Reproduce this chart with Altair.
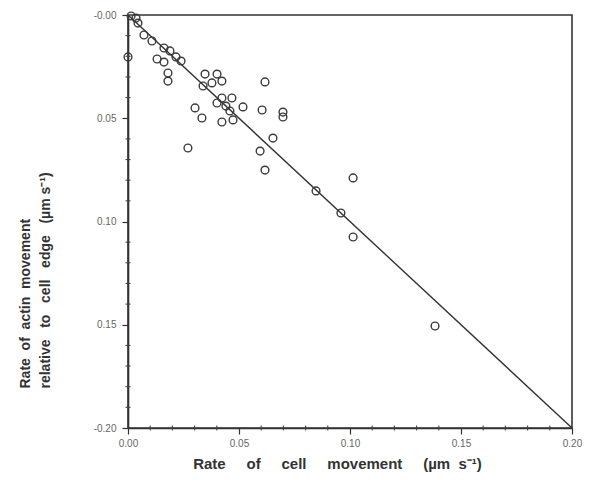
import altair as alt
import pandas as pd

# Rate of cell movement (µm/s)
cell_rate = [0.000, 0.0014, 0.0036, 0.0045, 0.0072, 0.0108, 0.0162, 0.0189, 0.0216, 0.0239,
             0.0131, 0.0162, 0.0180, 0.0180, 0.0347, 0.0401, 0.0423, 0.0338, 0.0378, 0.0617,
             0.0423, 0.0468, 0.0401, 0.0441, 0.0518, 0.0459, 0.0604, 0.0698, 0.0698, 0.0302,
             0.0333, 0.0423, 0.0473, 0.0270, 0.0653, 0.0595, 0.0617, 0.0847, 0.1014, 0.0959,
             0.1014, 0.1383]
# Rate of actin movement relative to cell edge (µm/s)
actin_rate = [-0.0203, -0.0005, -0.0015, -0.0039, -0.0097, -0.0126, -0.0160, -0.0174, -0.0203, -0.0223,
              -0.0213, -0.0228, -0.0281, -0.0320, -0.0286, -0.0286, -0.0320, -0.0344, -0.0329, -0.0324,
              -0.0402, -0.0402, -0.0426, -0.0441, -0.0445, -0.0465, -0.0460, -0.0470, -0.0494, -0.0450,
              -0.0499, -0.0518, -0.0508, -0.0644, -0.0596, -0.0659, -0.0751, -0.0852, -0.0789, -0.0959,
              -0.1075, -0.1506]
# reference line
line_x = [0.0, 0.20]
line_y = [0.0, -0.20]

x_major = [0.00, 0.05, 0.10, 0.15, 0.20]
x_minor = [0.01, 0.02, 0.03, 0.04, 0.06, 0.07, 0.08, 0.09,
           0.11, 0.12, 0.13, 0.14, 0.16, 0.17, 0.18, 0.19]
y_major = [0.00, -0.05, -0.10, -0.15, -0.20]
y_minor = [-0.01, -0.02, -0.03, -0.04, -0.06, -0.07, -0.08, -0.09,
           -0.11, -0.12, -0.13, -0.14, -0.16, -0.17, -0.18, -0.19]
x_labels = ["0.00", "0.05", "0.10", "0.15", "0.20"]
y_labels = ["-0.00", "0.05", "0.10", "0.15", "-0.20"]

pts = pd.DataFrame({"x": cell_rate, "y": actin_rate})
ln = pd.DataFrame({"x": line_x, "y": line_y})
xm = pd.DataFrame({"x": x_minor})
ym = pd.DataFrame({"y": y_minor})

NB = "\u00a0"
def spaced(words, n):
    return (NB * n).join(words)

def label_expr(values, labels):
    parts = []
    for v, l in zip(values, labels):
        parts.append(f"abs(datum.value - ({v})) < 0.001 ? '{l}'")
    return " : ".join(parts) + " : ''"

x_title = spaced(["Rate", "of", "cell", "movement", "(µm"], 5) + NB * 2 + "s⁻¹)"
y_title = [spaced(["Rate", "of", "actin", "movement"], 2),
           spaced(["relative", "to", "cell", "edge", "(µm"], 3) + NB + "s⁻¹)"]

x_axis = alt.Axis(
    values=x_major,
    labelExpr=label_expr(x_major, x_labels),
    title=x_title,
    titleFont="Liberation Sans", titleFontSize=15, titleFontWeight="bold", titleColor="#333",
    titleX=209, titleAnchor="middle", titleAlign="center", titlePadding=8,
    labelFont="Liberation Sans", labelFontSize=10, labelColor="#666", labelFlush=False,
    labelOverlap=False, labelPadding=4,
    tickSize=6, tickColor="#333", tickWidth=1.2,
    domainColor="#333", domainWidth=1.6, grid=False,
)
y_axis = alt.Axis(
    values=y_major,
    labelExpr=label_expr(y_major, y_labels),
    title=y_title,
    titleFont="Liberation Sans", titleFontSize=14, titleFontWeight="bold", titleColor="#333",
    titleAngle=270, titleAlign="left", titleX=-103, titleY=373, titleLineHeight=20,
    titleBaseline="middle",
    labelFont="Liberation Sans", labelFontSize=10, labelColor="#666", labelFlush=False,
    labelOverlap=False, labelPadding=6,
    tickSize=6, tickColor="#333", tickWidth=1.2,
    domainColor="#333", domainWidth=1.6, grid=False,
)

xs = alt.Scale(domain=[0, 0.2], nice=False, zero=False)
ys = alt.Scale(domain=[-0.2, 0], nice=False, zero=False)

X = alt.X("x:Q", scale=xs, axis=x_axis)
Y = alt.Y("y:Q", scale=ys, axis=y_axis)

points = alt.Chart(pts).mark_point(
    shape="circle", filled=False, size=60, stroke="#3a3a3a", strokeWidth=1.4, opacity=1
).encode(x=X, y=Y)

line = alt.Chart(ln).mark_line(color="#333", strokeWidth=1.4).encode(x=X, y=Y)

x_minor_ticks = alt.Chart(xm).mark_tick(
    orient="vertical", size=5, thickness=1.1, color="#444", opacity=1
).encode(x=X, y=alt.value(413))

y_minor_ticks = alt.Chart(ym).mark_tick(
    orient="horizontal", size=5, thickness=1.1, color="#444", opacity=1
).encode(y=Y, x=alt.value(0))

chart = alt.layer(line, points, x_minor_ticks, y_minor_ticks).properties(
    width=444, height=413,
    autosize=alt.AutoSizeParams(type="none"),
    padding={"left": 120, "top": 7, "right": 10, "bottom": 60},
    background="white",
).configure_view(stroke="#333", strokeWidth=1.6)

chart.save("out.html", embed_options={"renderer": "svg", "actions": False})
